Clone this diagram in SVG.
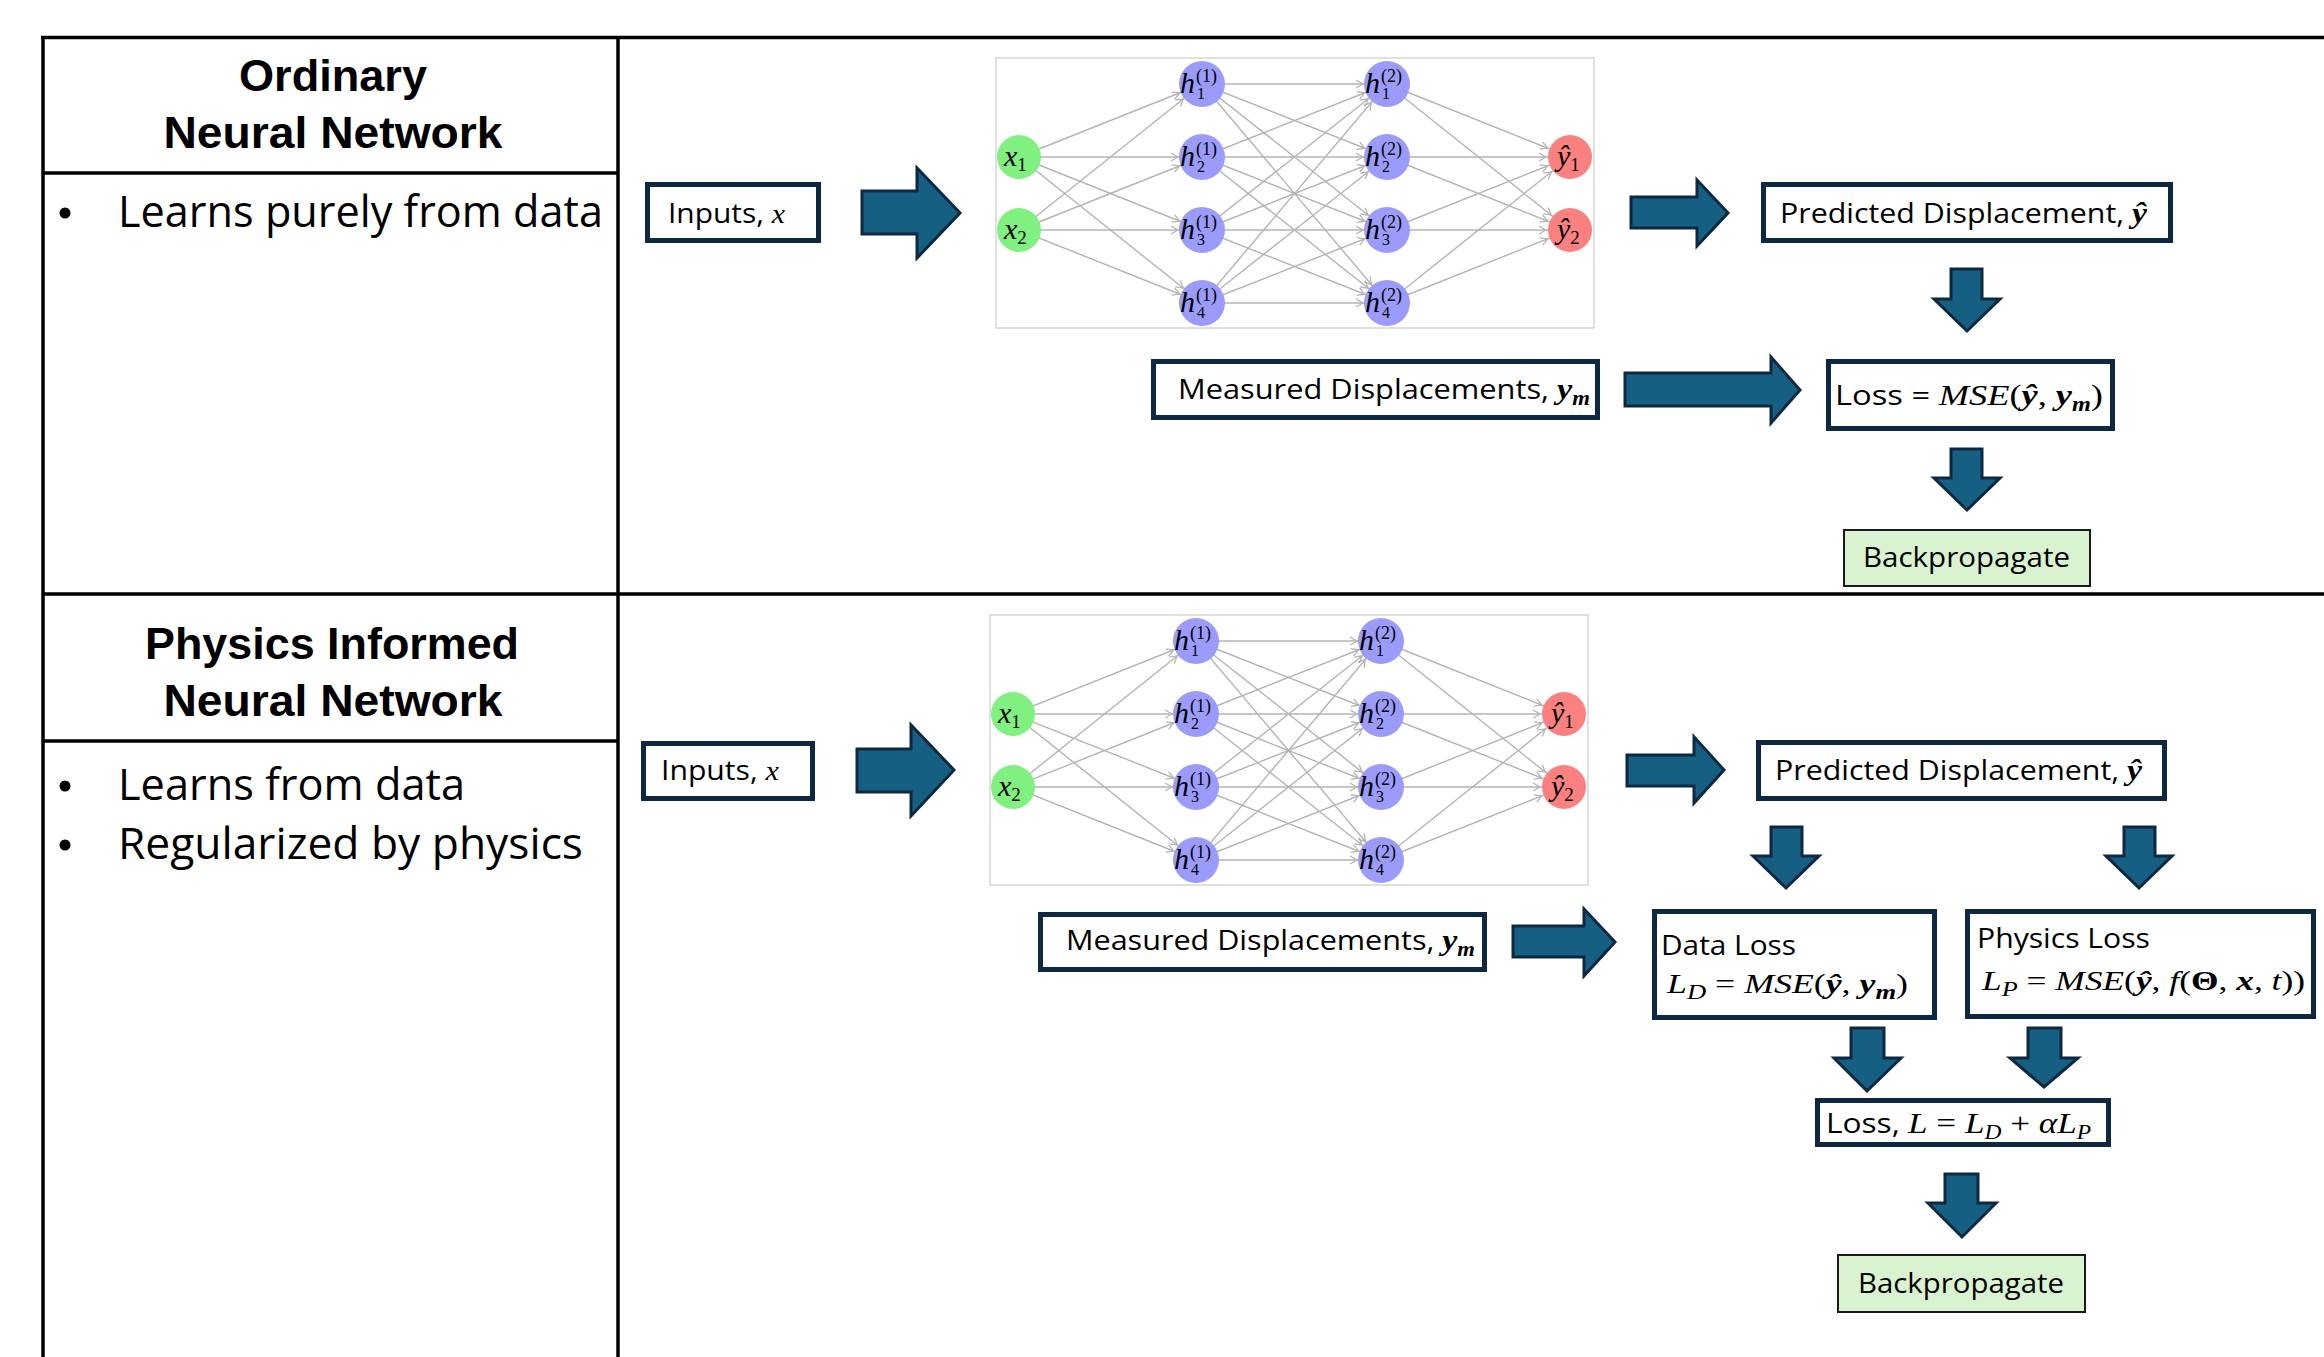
<svg xmlns="http://www.w3.org/2000/svg" xmlns:xlink="http://www.w3.org/1999/xlink" width="2324" height="1357" viewBox="0 0 2324 1357">
<style>
.tl{stroke:#000;stroke-width:3.5;fill:none}
.box{fill:#fff;stroke:#0e2841;stroke-width:5}
.bp{fill:#d9f2d0;stroke:#1a1a1a;stroke-width:2}
.arr{fill:#156082;stroke:#0e2841;stroke-width:3;stroke-linejoin:miter}
.t{font-family:"Open Sans","Liberation Sans",Arial,sans-serif;font-size:27px;fill:#000}
.ttl{font-family:"Liberation Sans",Arial,sans-serif;font-size:45px;font-weight:bold;fill:#000}
.bl{font-family:"Open Sans","Liberation Sans",Arial,sans-serif;font-size:44px;fill:#000}
.dot{fill:#000}
.m{font-family:"Liberation Serif","DejaVu Serif",serif;font-style:italic}
.mb{font-family:"Liberation Serif","DejaVu Serif",serif;font-style:italic;font-weight:bold}
.r{font-family:"Liberation Serif","DejaVu Serif",serif}
.rb{font-family:"Liberation Serif","DejaVu Serif",serif;font-weight:bold}
.e{stroke:#b4b4b4;stroke-width:1.4;marker-end:url(#ah)}
.nl{font-family:"Liberation Serif","DejaVu Serif",serif;fill:#000}
.ni{fill:#80f080}
.nh{fill:#9b9bfb}
.no{fill:#fb8080}
</style>
<defs>
<marker id="ah" viewBox="0 0 32 12" refX="32" refY="6" markerWidth="32" markerHeight="12" markerUnits="userSpaceOnUse" orient="auto">
<path d="M1,2 L8,6 L1,10" fill="none" stroke="#b4b4b4" stroke-width="1.3"/>
</marker>
<g id="nnet">
<rect x="0" y="0" width="598" height="270" fill="#fff" stroke="#d6d6d6" stroke-width="1.5"/>
<g>
<line class="e" x1="23" y1="99" x2="206" y2="26"/>
<line class="e" x1="23" y1="99" x2="206" y2="99"/>
<line class="e" x1="23" y1="99" x2="206" y2="172"/>
<line class="e" x1="23" y1="99" x2="206" y2="245"/>
<line class="e" x1="23" y1="172" x2="206" y2="26"/>
<line class="e" x1="23" y1="172" x2="206" y2="99"/>
<line class="e" x1="23" y1="172" x2="206" y2="172"/>
<line class="e" x1="23" y1="172" x2="206" y2="245"/>
<line class="e" x1="206" y1="26" x2="391" y2="26"/>
<line class="e" x1="206" y1="26" x2="391" y2="99"/>
<line class="e" x1="206" y1="26" x2="391" y2="172"/>
<line class="e" x1="206" y1="26" x2="391" y2="245"/>
<line class="e" x1="206" y1="99" x2="391" y2="26"/>
<line class="e" x1="206" y1="99" x2="391" y2="99"/>
<line class="e" x1="206" y1="99" x2="391" y2="172"/>
<line class="e" x1="206" y1="99" x2="391" y2="245"/>
<line class="e" x1="206" y1="172" x2="391" y2="26"/>
<line class="e" x1="206" y1="172" x2="391" y2="99"/>
<line class="e" x1="206" y1="172" x2="391" y2="172"/>
<line class="e" x1="206" y1="172" x2="391" y2="245"/>
<line class="e" x1="206" y1="245" x2="391" y2="26"/>
<line class="e" x1="206" y1="245" x2="391" y2="99"/>
<line class="e" x1="206" y1="245" x2="391" y2="172"/>
<line class="e" x1="206" y1="245" x2="391" y2="245"/>
<line class="e" x1="391" y1="26" x2="574" y2="99"/>
<line class="e" x1="391" y1="26" x2="574" y2="172"/>
<line class="e" x1="391" y1="99" x2="574" y2="99"/>
<line class="e" x1="391" y1="99" x2="574" y2="172"/>
<line class="e" x1="391" y1="172" x2="574" y2="99"/>
<line class="e" x1="391" y1="172" x2="574" y2="172"/>
<line class="e" x1="391" y1="245" x2="574" y2="99"/>
<line class="e" x1="391" y1="245" x2="574" y2="172"/>
</g>
<g>
<circle class="ni" cx="23" cy="99" r="22"/>
<text class="nl" x="8" y="108" font-size="30"><tspan font-style="italic">x</tspan><tspan font-size="19" dy="5">1</tspan></text>
<circle class="ni" cx="23" cy="172" r="22"/>
<text class="nl" x="8" y="181" font-size="30"><tspan font-style="italic">x</tspan><tspan font-size="19" dy="5">2</tspan></text>
<circle class="no" cx="574" cy="99" r="22"/>
<text class="nl" x="561" y="108" font-size="30"><tspan font-style="italic">ŷ</tspan><tspan font-size="19" dy="5">1</tspan></text>
<circle class="no" cx="574" cy="172" r="22"/>
<text class="nl" x="561" y="181" font-size="30"><tspan font-style="italic">ŷ</tspan><tspan font-size="19" dy="5">2</tspan></text>
</g>
<g>
<circle class="nh" cx="206" cy="26" r="23"/>
<circle class="nh" cx="206" cy="99" r="23"/>
<circle class="nh" cx="206" cy="172" r="23"/>
<circle class="nh" cx="206" cy="245" r="23"/>
<circle class="nh" cx="391" cy="26" r="23"/>
<circle class="nh" cx="391" cy="99" r="23"/>
<circle class="nh" cx="391" cy="172" r="23"/>
<circle class="nh" cx="391" cy="245" r="23"/>
<g class="nl">
<text x="184" y="35" font-size="30" font-style="italic">h</text><text x="200" y="24" font-size="18">(1)</text><text x="201" y="41" font-size="16">1</text>
<text x="184" y="108" font-size="30" font-style="italic">h</text><text x="200" y="97" font-size="18">(1)</text><text x="201" y="114" font-size="16">2</text>
<text x="184" y="181" font-size="30" font-style="italic">h</text><text x="200" y="170" font-size="18">(1)</text><text x="201" y="187" font-size="16">3</text>
<text x="184" y="254" font-size="30" font-style="italic">h</text><text x="200" y="243" font-size="18">(1)</text><text x="201" y="260" font-size="16">4</text>
<text x="369" y="35" font-size="30" font-style="italic">h</text><text x="385" y="24" font-size="18">(2)</text><text x="386" y="41" font-size="16">1</text>
<text x="369" y="108" font-size="30" font-style="italic">h</text><text x="385" y="97" font-size="18">(2)</text><text x="386" y="114" font-size="16">2</text>
<text x="369" y="181" font-size="30" font-style="italic">h</text><text x="385" y="170" font-size="18">(2)</text><text x="386" y="187" font-size="16">3</text>
<text x="369" y="254" font-size="30" font-style="italic">h</text><text x="385" y="243" font-size="18">(2)</text><text x="386" y="260" font-size="16">4</text>
</g>
</g>
</g>
</defs>

<g id="table">
<path class="tl" d="M41 37.5H2324M43 36V1357M618 36V1357M43 173H618M43 594H2324M43 741H618"/>
</g>

<g id="label-ordinary">
<text class="ttl" x="333" y="91" text-anchor="middle" textLength="188" lengthAdjust="spacingAndGlyphs">Ordinary</text>
<text class="ttl" x="333" y="148" text-anchor="middle" textLength="339" lengthAdjust="spacingAndGlyphs">Neural Network</text>
<circle class="dot" cx="65" cy="213" r="5.5"/>
<text class="bl" x="118" y="227" textLength="485" lengthAdjust="spacingAndGlyphs">Learns purely from data</text>
</g>

<g id="label-pinn">
<text class="ttl" x="332" y="659" text-anchor="middle" textLength="374" lengthAdjust="spacingAndGlyphs">Physics Informed</text>
<text class="ttl" x="333" y="716" text-anchor="middle" textLength="339" lengthAdjust="spacingAndGlyphs">Neural Network</text>
<circle class="dot" cx="65" cy="786" r="5.5"/>
<text class="bl" x="118" y="800" textLength="347" lengthAdjust="spacingAndGlyphs">Learns from data</text>
<circle class="dot" cx="65" cy="845" r="5.5"/>
<text class="bl" x="118" y="859" textLength="465" lengthAdjust="spacingAndGlyphs">Regularized by physics</text>
</g>

<!-- Top section nodes -->
<g id="top-inputs">
<rect class="box" x="647.5" y="184.5" width="171" height="56"/>
<text class="t" x="668" y="223" textLength="117" lengthAdjust="spacingAndGlyphs">Inputs, <tspan class="m">x</tspan></text>
</g>
<g id="top-network">
<use xlink:href="#nnet" href="#nnet" transform="translate(996,58)"/>
</g>
<g id="top-predicted">
<rect class="box" x="1763.5" y="184.5" width="407" height="56"/>
<text class="t" x="1780" y="223" textLength="367" lengthAdjust="spacingAndGlyphs">Predicted Displacement, <tspan class="mb" font-size="30">ŷ</tspan></text>
</g>
<g id="top-measured">
<rect class="box" x="1153.5" y="361.5" width="444" height="56"/>
<text class="t" x="1178" y="399" textLength="412" lengthAdjust="spacingAndGlyphs">Measured Displacements, <tspan class="mb" font-size="30">y</tspan><tspan class="mb" font-size="20" dy="6">m</tspan></text>
</g>
<g id="top-loss">
<rect class="box" x="1828.5" y="361.5" width="284" height="67"/>
<text class="t" x="1835" y="405" textLength="268" lengthAdjust="spacingAndGlyphs">Loss = <tspan class="m" font-size="30">MSE</tspan><tspan class="r" font-size="30">(</tspan><tspan class="mb" font-size="30">ŷ</tspan><tspan class="r" font-size="30">, </tspan><tspan class="mb" font-size="30">y</tspan><tspan class="mb" font-size="20" dy="6">m</tspan><tspan class="r" font-size="30" dy="-6">)</tspan></text>
</g>
<g id="top-backprop">
<rect class="bp" x="1844" y="530" width="246" height="56"/>
<text class="t" x="1863" y="567" textLength="207" lengthAdjust="spacingAndGlyphs">Backpropagate</text>
</g>

<!-- Bottom section nodes -->
<g id="bot-inputs">
<rect class="box" x="643.5" y="743.5" width="169" height="55"/>
<text class="t" x="661" y="780" textLength="118" lengthAdjust="spacingAndGlyphs">Inputs, <tspan class="m">x</tspan></text>
</g>
<g id="bot-network">
<use xlink:href="#nnet" href="#nnet" transform="translate(990,615)"/>
</g>
<g id="bot-predicted">
<rect class="box" x="1758.5" y="742.5" width="406" height="56"/>
<text class="t" x="1775" y="780" textLength="367" lengthAdjust="spacingAndGlyphs">Predicted Displacement, <tspan class="mb" font-size="30">ŷ</tspan></text>
</g>
<g id="bot-measured">
<rect class="box" x="1040.5" y="914.5" width="444" height="55"/>
<text class="t" x="1066" y="950" textLength="409" lengthAdjust="spacingAndGlyphs">Measured Displacements, <tspan class="mb" font-size="30">y</tspan><tspan class="mb" font-size="20" dy="6">m</tspan></text>
</g>
<g id="bot-dataloss">
<rect class="box" x="1654.5" y="911.5" width="280" height="106"/>
<text class="t" x="1661" y="955" textLength="135" lengthAdjust="spacingAndGlyphs">Data Loss</text>
<text class="t" x="1667" y="993" font-size="30" textLength="241" lengthAdjust="spacingAndGlyphs"><tspan class="m">L</tspan><tspan class="m" font-size="20" dy="6">D</tspan><tspan class="r" dy="-6"> = </tspan><tspan class="m">MSE</tspan><tspan class="r">(</tspan><tspan class="mb">ŷ</tspan><tspan class="r">, </tspan><tspan class="mb">y</tspan><tspan class="mb" font-size="20" dy="6">m</tspan><tspan class="r" dy="-6">)</tspan></text>
</g>
<g id="bot-physicsloss">
<rect class="box" x="1967.5" y="911.5" width="346" height="105"/>
<text class="t" x="1977" y="948" textLength="173" lengthAdjust="spacingAndGlyphs">Physics Loss</text>
<text class="t" x="1982" y="990" font-size="30" textLength="323" lengthAdjust="spacingAndGlyphs"><tspan class="m">L</tspan><tspan class="m" font-size="20" dy="6">P</tspan><tspan class="r" dy="-6"> = </tspan><tspan class="m">MSE</tspan><tspan class="r">(</tspan><tspan class="mb">ŷ</tspan><tspan class="r">, </tspan><tspan class="m">f</tspan><tspan class="r">(</tspan><tspan class="rb">Θ</tspan><tspan class="r">, </tspan><tspan class="mb">x</tspan><tspan class="r">, </tspan><tspan class="m">t</tspan><tspan class="r">))</tspan></text>
</g>
<g id="bot-loss">
<rect class="box" x="1817.5" y="1100.5" width="291" height="44"/>
<text class="t" x="1826" y="1133" textLength="265" lengthAdjust="spacingAndGlyphs">Loss, <tspan class="m" font-size="30">L</tspan><tspan class="r" font-size="30"> = </tspan><tspan class="m" font-size="30">L</tspan><tspan class="m" font-size="20" dy="6">D</tspan><tspan class="r" font-size="30" dy="-6"> + </tspan><tspan class="m" font-size="30">αL</tspan><tspan class="m" font-size="20" dy="6">P</tspan></text>
</g>
<g id="bot-backprop">
<rect class="bp" x="1838" y="1255" width="247" height="57"/>
<text class="t" x="1858" y="1293" textLength="206" lengthAdjust="spacingAndGlyphs">Backpropagate</text>
</g>

<g id="connectors">
<!-- top -->
<path class="arr" d="M862 191H917V168L960 213L917 258V234H862Z"/>
<path class="arr" d="M1631 197H1697V180L1728 213L1697 246V228H1631Z"/>
<path class="arr" d="M1951 269H1982V299H2000L1967 331L1934 299H1951Z"/>
<path class="arr" d="M1625 373H1771V357L1800 390L1771 423V406H1625Z"/>
<path class="arr" d="M1951 449H1982V478H2000L1967 510L1934 478H1951Z"/>
<!-- bottom -->
<path class="arr" d="M857 749H911V725L954 770L911 816V792H857Z"/>
<path class="arr" d="M1627 755H1694V737L1724 770L1694 803V786H1627Z"/>
<path class="arr" d="M1771 827H1802V856H1819L1786 888L1753 856H1771Z"/>
<path class="arr" d="M2124 827H2155V856H2172L2139 888L2106 856H2124Z"/>
<path class="arr" d="M1513 926H1584V909L1615 942L1584 976V957H1513Z"/>
<path class="arr" d="M1851 1028H1884V1058H1901L1867 1091L1834 1058H1851Z"/>
<path class="arr" d="M2028 1028H2061V1058H2078L2044 1087L2010 1058H2028Z"/>
<path class="arr" d="M1945 1174H1978V1203H1996L1962 1237L1928 1203H1945Z"/>
</g>
</svg>
